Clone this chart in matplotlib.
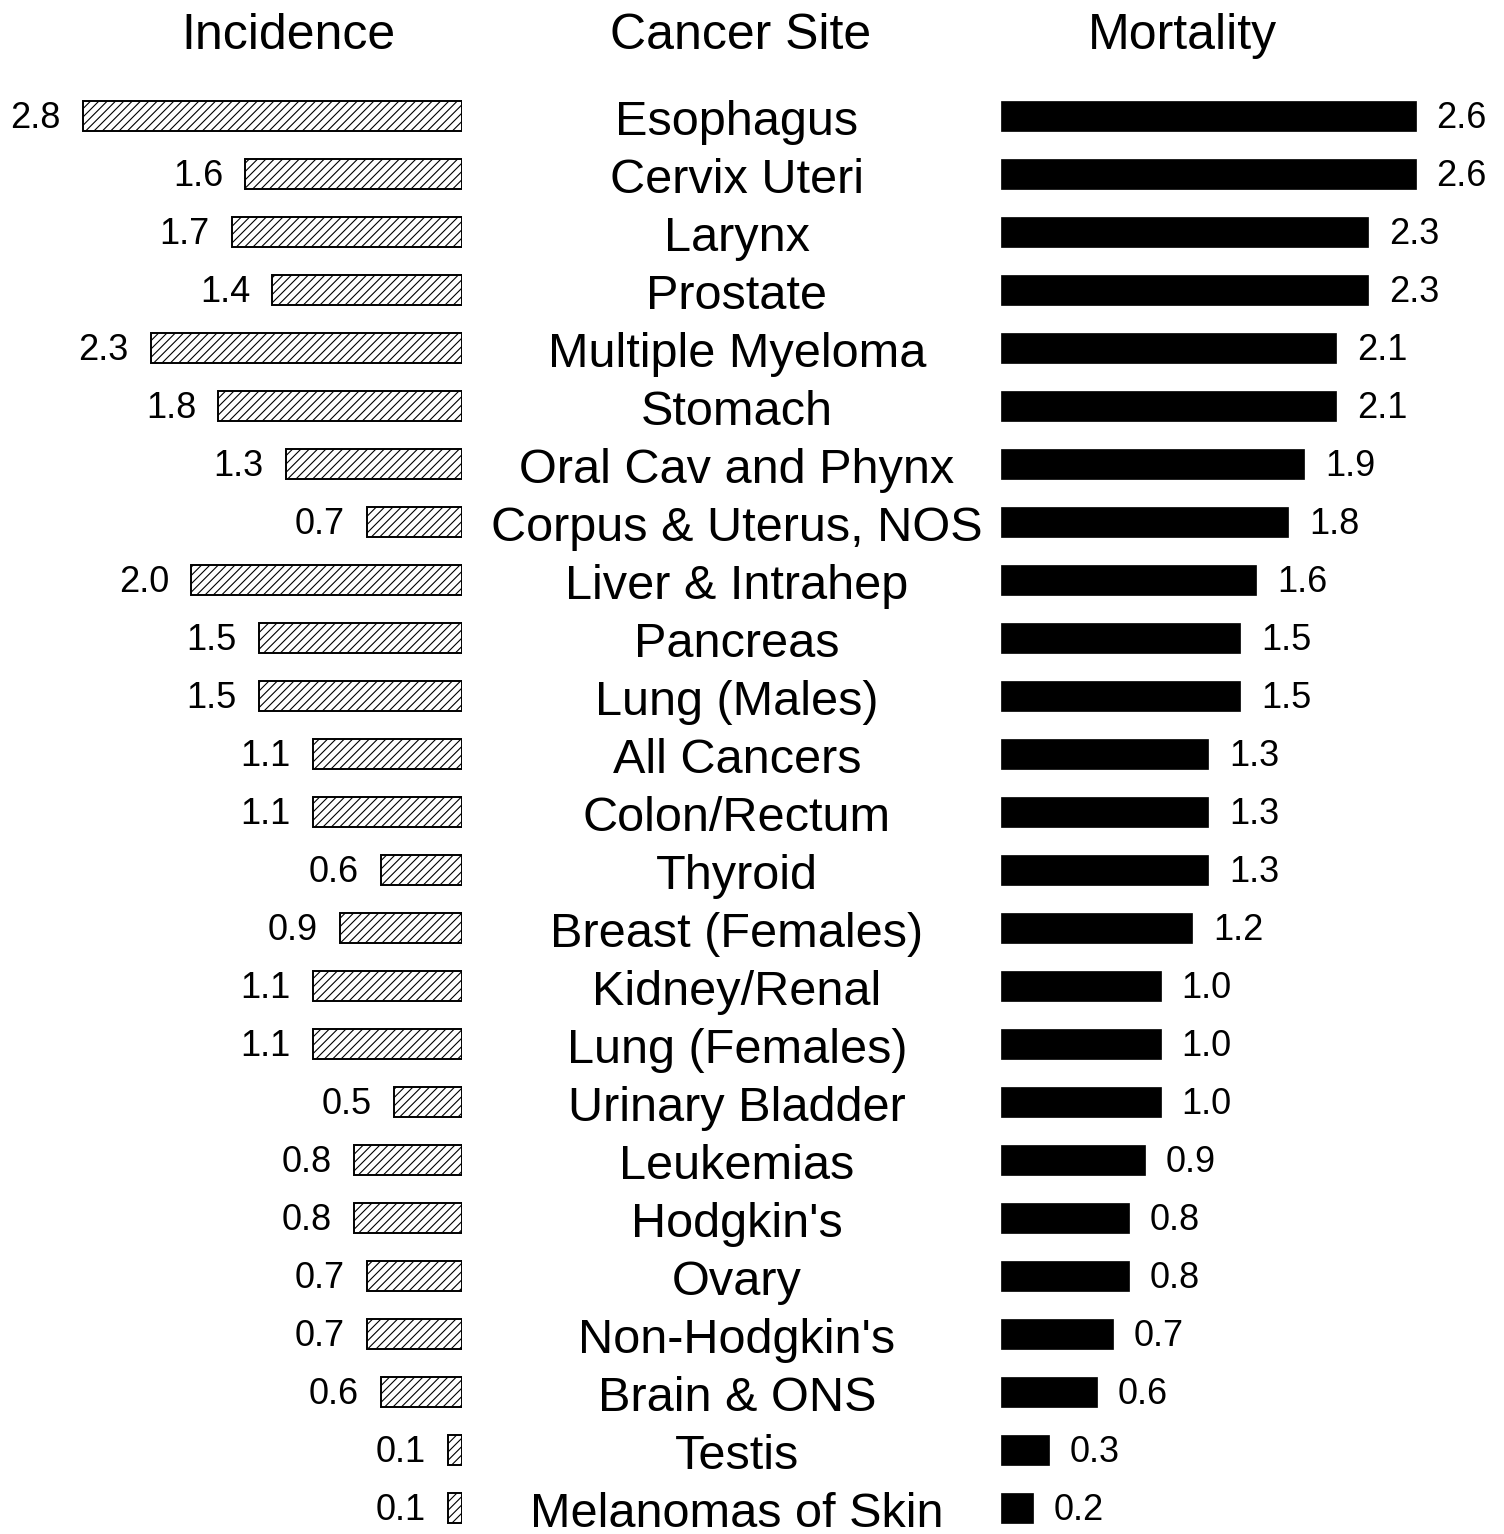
import numpy as np
import matplotlib
matplotlib.use('Agg')
import matplotlib.pyplot as plt
from matplotlib.transforms import blended_transform_factory

plt.rcParams['font.family'] = ['Liberation Sans', 'DejaVu Sans']
plt.rcParams['hatch.linewidth'] = 0.8

sites = ['Esophagus', 'Cervix Uteri', 'Larynx', 'Prostate', 'Multiple Myeloma',
         'Stomach', 'Oral Cav and Phynx', 'Corpus & Uterus, NOS', 'Liver & Intrahep',
         'Pancreas', 'Lung (Males)', 'All Cancers', 'Colon/Rectum', 'Thyroid',
         'Breast (Females)', 'Kidney/Renal', 'Lung (Females)', 'Urinary Bladder',
         'Leukemias', "Hodgkin's", 'Ovary', "Non-Hodgkin's", 'Brain & ONS',
         'Testis', 'Melanomas of Skin']
incidence = [2.8, 1.6, 1.7, 1.4, 2.3, 1.8, 1.3, 0.7, 2.0, 1.5, 1.5, 1.1, 1.1,
             0.6, 0.9, 1.1, 1.1, 0.5, 0.8, 0.8, 0.7, 0.7, 0.6, 0.1, 0.1]
mortality = [2.6, 2.6, 2.3, 2.3, 2.1, 2.1, 1.9, 1.8, 1.6, 1.5, 1.5, 1.3, 1.3,
             1.3, 1.2, 1.0, 1.0, 1.0, 0.9, 0.8, 0.8, 0.7, 0.6, 0.3, 0.2]

W, H = 1504, 1534
fig = plt.figure(figsize=(W / 100, H / 100), dpi=100)

top = 1 - 87 / H
ax_l = fig.add_axes([0, 0, 462 / W, top])
ax_r = fig.add_axes([1001 / W, 0, (W - 1001) / W, top])

y = np.arange(len(sites))
bar_h = 0.52

ax_l.barh(y, incidence, height=bar_h, color='white', edgecolor='black',
          linewidth=1.4, hatch='////')
ax_r.barh(y, mortality, height=bar_h, color='black', edgecolor='black', linewidth=0.5)

ax_l.set_xlim(462 / 135.4, 0)
ax_r.set_xlim(0, (W - 1001) / 159.5)
ylim = ((H - 116) / 58, -0.5)
ax_l.set_ylim(*ylim)
ax_r.set_ylim(*ylim)

for yi, v in zip(y, incidence):
    ax_l.annotate(f'{v:.1f}', (v, yi), xytext=(-16, -2), textcoords='offset points',
                  ha='right', va='center', fontsize=26)
for yi, v in zip(y, mortality):
    ax_r.annotate(f'{v:.1f}', (v, yi), xytext=(15, -2), textcoords='offset points',
                  ha='left', va='center', fontsize=26)

trans = blended_transform_factory(fig.transFigure, ax_r.transData)
for yi, s in zip(y, sites):
    fig.text(737 / W, yi + 0.12, s, transform=trans, ha='center', va='center',
             fontsize=35)

for ax in (ax_l, ax_r):
    ax.axis('off')

fig.text(288 / W, 1 - 36 / H, 'Incidence', ha='center', va='center', fontsize=36)
fig.text(741 / W, 1 - 36 / H, 'Cancer Site', ha='center', va='center', fontsize=36)
fig.text(1182 / W, 1 - 36 / H, 'Mortality', ha='center', va='center', fontsize=36)

fig.savefig('out.png', dpi=100)
